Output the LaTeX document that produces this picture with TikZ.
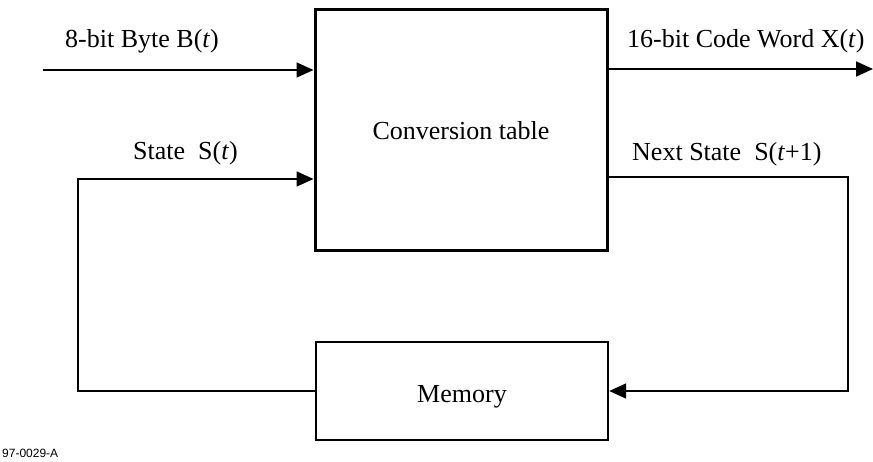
\documentclass[tikz,border=0pt]{standalone}
\usepackage{fontspec}
\setmainfont{Liberation Serif}
\setsansfont{Liberation Sans}
\usetikzlibrary{arrows.meta}

\tikzset{
    block/.style={draw, line width=3pt, minimum width=292pt, inner sep=0pt},
    flow/.style={line width=1.8pt, -{Triangle[length=17pt, width=15pt]}},
    lbl/.style={anchor=base west, inner sep=0pt, font=\fontsize{26}{30}\selectfont},
}

\begin{document}
\begin{tikzpicture}[x=1pt, y=-1pt]
    \useasboundingbox (0, 0) rectangle (873, 462);

    % Blocks
    \node[block, minimum height=241pt, font=\fontsize{26}{30}\selectfont] (conv) at (461, 130.5) {Conversion table};
    \node[block, line width=2.4pt, minimum height=98pt,
          label={[font=\fontsize{26}{30}\selectfont, yshift=-6pt]center:Memory}] (mem) at (462, 391) {};

    % Free ends
    \coordinate (byteIn) at (43, 70);
    \coordinate (wordOut) at (873, 69);
    \coordinate (loopL) at (78, 179);
    \coordinate (loopR) at (848, 177);

    % Input byte and output code word
    \draw[flow] (byteIn) -- (conv.west |- byteIn);
    \draw[flow] (conv.east |- wordOut) -- (wordOut);

    % State feedback loop
    \draw[flow] (mem.west) -| (loopL) -- (conv.west |- loopL);
    \draw[flow] (conv.east |- loopR) -- (loopR) |- (mem.east);

    % Labels
    \node[lbl] (byteLbl) at (65, 48) {8-bit Byte B(\textit{t})};
    \node[lbl] (wordLbl) at (627, 48) {16-bit Code Word X(\textit{t})};
    \node[lbl] (stateLbl) at (133, 160) {State\ \ S(\textit{t})};
    \node[lbl] (nextLbl) at (632, 161) {Next State\ \ S(\textit{t}+1)};
    \node[anchor=base west, inner sep=0pt, font=\sffamily\fontsize{12}{14}\selectfont] (figId) at (2, 457) {97-0029-A};
\end{tikzpicture}
\end{document}
